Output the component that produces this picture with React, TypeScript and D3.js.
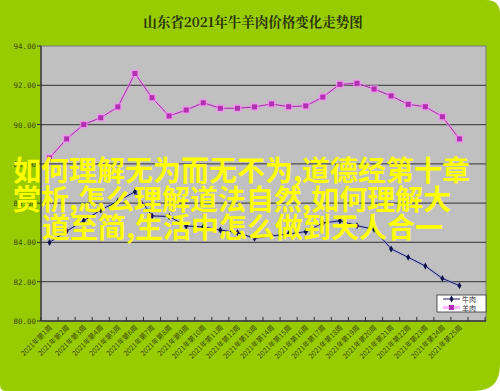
import React from "react";
import * as d3 from "d3";

const title = "山东省2021年牛羊肉价格变化走势图";

const weeks = d3.range(1, 26).map((w) => `2021年第${w}周`);

// 牛肉 (beef)
const beef = [
  84.0, 84.58, 85.1, 85.65, 86.1, 86.58, 85.35, 85.32, 84.84, 84.79, 84.63,
  84.5, 84.21, 84.33, 84.43, 84.55, 84.99, 85.1, 84.85, 84.67, 83.67, 83.24,
  82.8, 82.17, 81.8
];

// 羊肉 (mutton)
const mutton = [
  88.3, 89.27, 90.0, 90.35, 90.9, 92.6, 91.37, 90.44, 90.74, 91.11, 90.83,
  90.83, 90.9, 91.05, 90.91, 90.95, 91.4, 92.05, 92.1, 91.81, 91.46, 91.03,
  90.91, 90.4, 89.27
];

const yTicks = [80, 82, 84, 86, 88, 90, 92, 94];

const overlayLines = [
  "如何理解无为而无不为,道德经第十章",
  "赏析,怎么理解道法自然,如何理解大",
  "道至简,生活中怎么做到天人合一"
];

const W = 500;
const H = 391;
const plot = { left: 41, right: 486, top: 46, bottom: 321 };

export default function App() {
  const x = d3
    .scaleBand<string>()
    .domain(weeks)
    .range([plot.left, plot.left + weeks.length * 17.08])
    .paddingInner(0)
    .paddingOuter(0);

  const y = d3.scaleLinear().domain([80, 94]).range([plot.bottom, plot.top]);

  const cx = (i: number) => (x(weeks[i]) as number) + x.bandwidth() / 2;

  const line = d3
    .line<number>()
    .x((_, i) => cx(i))
    .y((d) => y(d));

  const tickXs = d3.range(0, weeks.length + 2).map((i) => plot.left + i * x.bandwidth()).filter((v) => v <= plot.right);

  const diamond = d3.symbol(d3.symbolDiamond, 14)();

  return (
    <div style={{ position: "fixed", left: 0, top: 0 }}>
      <svg width={W} height={H} xmlns="http://www.w3.org/2000/svg" style={{ display: "block" }}>
        <rect x={0} y={0} width={W} height={H} fill="#ffffff" />
        <path
          d={`M0,0 H${W - 14} Q${W},0 ${W},14 V${H - 26} Q${W},${H} ${W - 26},${H} H6 Q0,${H} 0,${H - 6} Z`}
          fill="#99cc00"
        />

        <text
          x={253}
          y={27}
          textAnchor="middle"
          fontFamily="'Noto Serif CJK SC','Noto Sans CJK SC',serif"
          fontWeight="bold"
          fontSize={13.5}
          fill="#2a3508"
        >
          {title}
        </text>

        {/* plot area */}
        <rect
          x={plot.left}
          y={plot.top}
          width={plot.right - plot.left}
          height={plot.bottom - plot.top}
          fill="#c0c0c0"
          stroke="#7a7a7a"
          strokeWidth={1}
        />

        {yTicks
          .filter((t) => t > 80 && t < 94)
          .map((t) => (
            <line
              key={`g${t}`}
              x1={plot.left}
              x2={plot.right}
              y1={y(t)}
              y2={y(t)}
              stroke="#4d4d4d"
              strokeWidth={1.3}
            />
          ))}

        {/* y axis */}
        <line x1={plot.left} x2={plot.left} y1={plot.top} y2={plot.bottom} stroke="#333" strokeWidth={1.3} />
        {yTicks.map((t) => (
          <g key={`yt${t}`}>
            <line x1={plot.left - 4} x2={plot.left} y1={y(t)} y2={y(t)} stroke="#333" />
            <text
              x={36}
              y={y(t) + 3}
              textAnchor="end"
              fontFamily="'DejaVu Sans Mono',monospace"
              fontSize={7.5}
              fill="#3a4a10"
            >
              {d3.format(".2f")(t)}
            </text>
          </g>
        ))}

        {/* x axis */}
        <line x1={plot.left} x2={plot.right} y1={plot.bottom} y2={plot.bottom} stroke="#333" strokeWidth={1.3} />
        {tickXs.map((tx, i) => (
          <line key={`xt${i}`} x1={tx} x2={tx} y1={plot.bottom - 4} y2={plot.bottom} stroke="#333" />
        ))}
        {weeks.map((w, i) => (
          <text
            key={w}
            transform={`translate(${cx(i) + 3},${plot.bottom + 7}) rotate(-45)`}
            textAnchor="end"
            fontFamily="'Noto Sans CJK SC',sans-serif"
            fontSize={7}
            fill="#3a4a10"
          >
            {w}
          </text>
        ))}

        {/* 羊肉 series */}
        <path d={line(mutton) || ""} fill="none" stroke="#ff88ff" strokeWidth={3} opacity={0.5} />
        <path d={line(mutton) || ""} fill="none" stroke="#993399" strokeWidth={1} />
        {mutton.map((v, i) => (
          <g key={`m${i}`}>
            <rect x={cx(i) - 4} y={y(v) - 4} width={8} height={8} fill="#ff88ff" opacity={0.6} />
            <rect x={cx(i) - 2.5} y={y(v) - 2.5} width={5} height={5} fill="#b030b0" />
          </g>
        ))}

        {/* 牛肉 series */}
        <path d={line(beef) || ""} fill="none" stroke="#9aa0e8" strokeWidth={3} opacity={0.5} />
        <path d={line(beef) || ""} fill="none" stroke="#1a1a5a" strokeWidth={1} />
        {beef.map((v, i) => (
          <path key={`b${i}`} d={diamond || ""} transform={`translate(${cx(i)},${y(v)})`} fill="#10104a" />
        ))}

        {/* legend */}
        <g>
          <rect x={437} y={295} width={49} height={17} fill="#ffffff" stroke="#333" strokeWidth={0.8} />
          <line x1={443} x2={460} y1={299} y2={299} stroke="#1a1a5a" />
          <path d={diamond || ""} transform="translate(451.5,299)" fill="#10104a" />
          <text x={462} y={302} fontFamily="'Noto Sans CJK SC',sans-serif" fontSize={7} fill="#333">
            牛肉
          </text>
          <line x1={443} x2={460} y1={307.5} y2={307.5} stroke="#ff88ff" strokeWidth={3} opacity={0.6} />
          <rect x={449} y={305} width={5} height={5} fill="#b030b0" />
          <text x={462} y={310.5} fontFamily="'Noto Sans CJK SC',sans-serif" fontSize={7} fill="#333">
            羊肉
          </text>
        </g>

        {/* overlay caption */}
        {overlayLines.map((t, i) => (
          <text
            key={`o${i}`}
            x={i === 2 ? 42 : 13}
            y={181 + i * 28.5}
            fontFamily="'Noto Sans CJK SC',sans-serif"
            fontWeight="bold"
            fontSize={28}
            fill="#ffff00"
          >
            {t}
          </text>
        ))}
      </svg>
    </div>
  );
}
